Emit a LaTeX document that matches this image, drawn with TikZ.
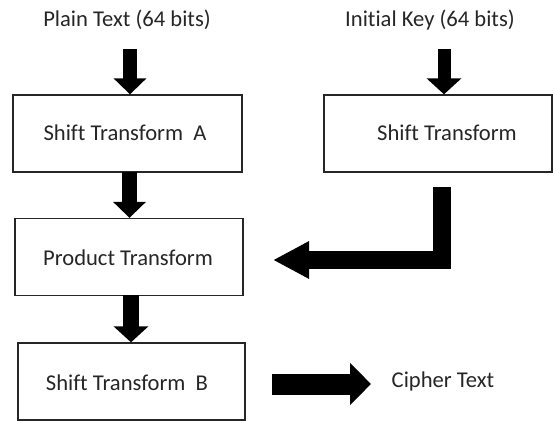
\documentclass[tikz,border=0pt]{standalone}
\usepackage{fontspec}
\setmainfont{Carlito}[Ligatures={NoCommon,NoDiscretionary}]
\usetikzlibrary{arrows.meta}
\begin{document}
\begin{tikzpicture}[x=1pt,y=-1pt,
  txt/.style={font=\fontsize{22.6}{26}\selectfont, text=black!85, inner sep=0pt},
  box/.style={draw=black!85, line width=1.3pt, fill=white, inner sep=0pt},
  fat/.style={draw=black, line join=miter}]
\useasboundingbox (0,0) rectangle (554,422);
% boxes
\node[box, minimum width=229pt, minimum height=77pt] (boxA) at (127.5,133.5) {};
\node[box, minimum width=228pt, minimum height=77pt] (prod) at (129,257) {};
\node[box, minimum width=227pt, minimum height=77pt] (boxB) at (131.5,381.5) {};
\node[box, minimum width=228pt, minimum height=77pt] (key) at (438,133.5) {};
% texts
\node[txt] (plain) at (127,20) {Plain Text (64 bits)};
\node[txt] (init) at (430,20) {Initial Key (64 bits)};
\node[txt] (tA) at (125,133) {Shift Transform\ \ A};
\node[txt] (tP) at (128,258) {Product Transform};
\node[txt] (tB) at (127,383) {Shift Transform\ \ B};
\node[txt] (tK) at (447,133) {Shift Transform};
\node[txt] (cipher) at (443,381) {Cipher Text};
% arrow start coordinates
\coordinate (a1) at (130,49);
\coordinate (a2) at (129.5,172);
\coordinate (a3) at (131,295);
\coordinate (k1) at (444,49);
\coordinate (l1) at (442,187);
\coordinate (lc) at (442,260);
\coordinate (lt) at (273,260);
\coordinate (r1) at (272,384);
\coordinate (rt) at (371,384);
% arrows
\draw[fat, line width=14pt, -{Triangle[length=16pt,width=32pt]}] (a1) -- (a1 |- boxA.north);
\draw[fat, line width=15pt, -{Triangle[length=16pt,width=32pt]}] (a2) -- (a2 |- prod.north);
\draw[fat, line width=16pt, -{Triangle[length=16pt,width=34pt]}] (a3) -- (a3 |- boxB.north);
\draw[fat, line width=13pt, -{Triangle[length=16pt,width=34pt]}] (k1) -- (k1 |- key.north);
\draw[fat, line width=18pt, -{Triangle[length=36pt,width=35pt]}] (l1) -- (lc) -- (lt);
\draw[fat, line width=21pt, -{Triangle[length=21pt,width=41pt]}] (r1) -- (rt);
\end{tikzpicture}
\end{document}
